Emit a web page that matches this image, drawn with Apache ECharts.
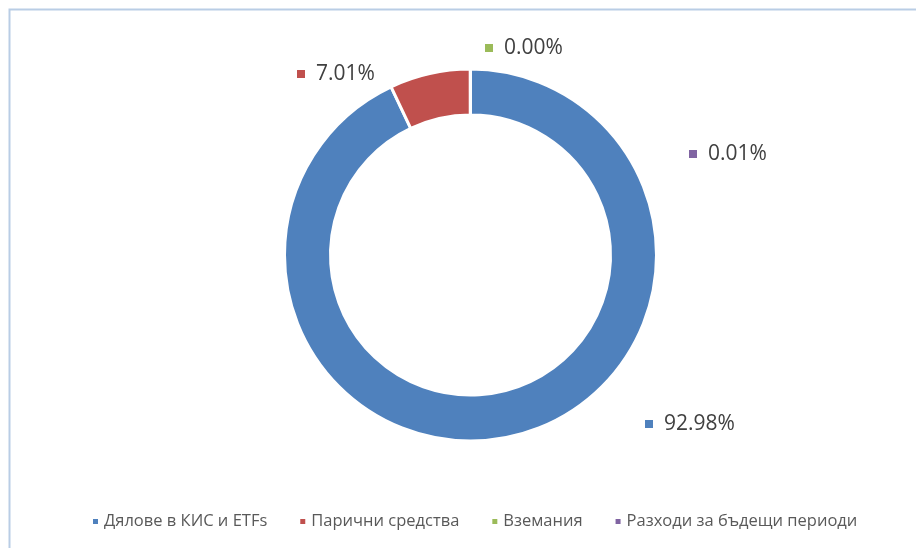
<!DOCTYPE html>
<html>
<head>
<meta charset="utf-8">
<script src="https://cdn.jsdelivr.net/npm/echarts@6/dist/echarts.min.js"></script>
<style>
  html, body { margin: 0; padding: 0; background: #fff; }
  #chart { width: 916px; height: 548px; }
</style>
</head>
<body>
<div id="chart"></div>
<script>
const categories = ["Дялове в КИС и ETFs", "Парични средства", "Вземания", "Разходи за бъдещи периоди"]
const shares = [92.98, 7.01, 0.00, 0.01]
const colors = ["#4f81bd", "#c0504d", "#9bbb59", "#8064a2"]

// where Excel put each data label (left edge of marker, vertical middle)
const labelSpots = [[645, 424], [297, 74], [485, 48], [689, 154]]

const chart = echarts.init(document.getElementById("chart"))
chart.setOption({
  animation: false,
  color: colors,
  graphic: [{
    type: "rect",
    shape: { x: 9.5, y: 9.5, width: 940, height: 560 },
    style: { fill: "none", stroke: "#b9cde5", lineWidth: 2 },
    silent: true
  }],
  legend: {
    bottom: 13,
    left: 86,
    icon: "rect",
    itemWidth: 7,
    itemHeight: 7,
    itemGap: 31,
    textStyle: { fontFamily: "Open Sans", fontSize: 16.5, color: "#595959" },
    data: categories
  },
  series: [{
    type: "pie",
    center: [470.5, 255],
    radius: [140, 186],
    startAngle: 90,
    clockwise: true,
    minAngle: 0,
    avoidLabelOverlap: false,
    itemStyle: { borderColor: "#fff", borderWidth: 3 },
    labelLine: { show: false },
    label: {
      show: true,
      position: "outside",
      formatter: function (p) {
        return "{m" + p.dataIndex + "|}{v|" + p.value.toFixed(2) + "%}"
      },
      rich: {
        m0: { width: 8, height: 8, backgroundColor: colors[0] },
        m1: { width: 8, height: 8, backgroundColor: colors[1] },
        m2: { width: 8, height: 8, backgroundColor: colors[2] },
        m3: { width: 8, height: 8, backgroundColor: colors[3] },
        v: { fontFamily: "Open Sans", fontSize: 21, color: "#404040", padding: [0, 0, 0, 11] }
      }
    },
    labelLayout: function (params) {
      const spot = labelSpots[params.dataIndex]
      return { x: spot[0], y: spot[1], align: "left", verticalAlign: "middle" }
    },
    data: categories.map((name, i) => ({ name: name, value: shares[i] }))
  }]
})
</script>
</body>
</html>
